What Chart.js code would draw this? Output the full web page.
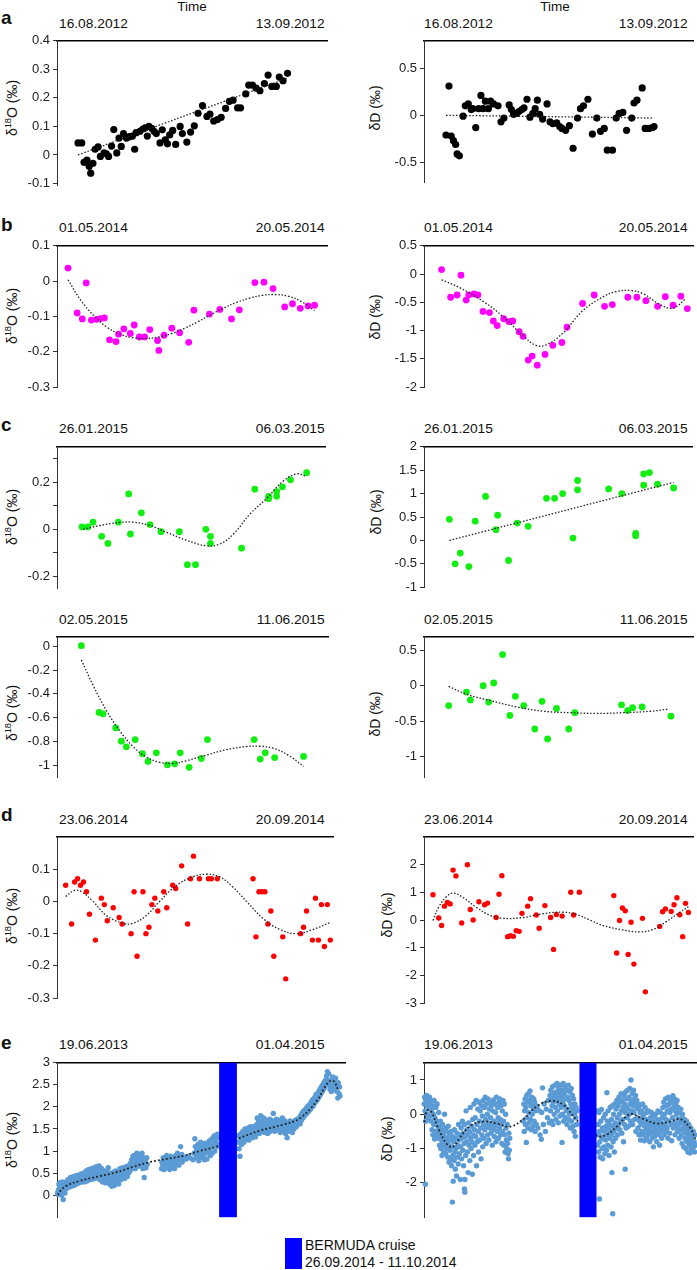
<!DOCTYPE html>
<html>
<head>
<meta charset="utf-8">
<script src="https://cdn.jsdelivr.net/npm/chart.js@4.4.1/dist/chart.umd.min.js"></script>
<style>
html,body{margin:0;padding:0;background:#fff;overflow:hidden;}
#fig{position:relative;width:697px;height:1270px;overflow:hidden;font-family:"Liberation Sans",Arial,sans-serif;color:#111;}
#fig canvas{position:absolute;}
.t{position:absolute;white-space:nowrap;line-height:1;}
.date{font-size:12.5px;transform:scaleX(1.1);transform-origin:left top;}
.date.r{transform-origin:right top;}
.time{font-size:12.5px;transform:translateX(-50%) scaleX(1.08);}
.let{font-size:19px;font-weight:bold;left:1px;}
.yt{font-size:14px;transform:translate(-50%,-50%) rotate(-90deg);}
.yt sup{font-size:0.66em;line-height:0;}
.leg{font-size:14px;left:305px;}
</style>
</head>
<body>
<div id="fig">
  <div class="t time" style="left:192px;top:1px">Time</div>
  <div class="t time" style="left:555px;top:1px">Time</div>

  <div class="t let" style="top:8px">a</div>
  <div class="t let" style="top:215px">b</div>
  <div class="t let" style="top:415px">c</div>
  <div class="t let" style="top:805px">d</div>
  <div class="t let" style="top:1033px">e</div>

  <div class="t date" style="left:59px;top:18px">16.08.2012</div>
  <div class="t date r" style="right:372px;top:18px">13.09.2012</div>
  <div class="t date" style="left:424px;top:18px">16.08.2012</div>
  <div class="t date r" style="right:9px;top:18px">13.09.2012</div>

  <div class="t date" style="left:59px;top:222px">01.05.2014</div>
  <div class="t date r" style="right:372px;top:222px">20.05.2014</div>
  <div class="t date" style="left:424px;top:222px">01.05.2014</div>
  <div class="t date r" style="right:9px;top:222px">20.05.2014</div>

  <div class="t date" style="left:59px;top:423px">26.01.2015</div>
  <div class="t date r" style="right:372px;top:423px">06.03.2015</div>
  <div class="t date" style="left:424px;top:423px">26.01.2015</div>
  <div class="t date r" style="right:9px;top:423px">06.03.2015</div>

  <div class="t date" style="left:59px;top:614px">02.05.2015</div>
  <div class="t date r" style="right:372px;top:614px">11.06.2015</div>
  <div class="t date" style="left:424px;top:614px">02.05.2015</div>
  <div class="t date r" style="right:9px;top:614px">11.06.2015</div>

  <div class="t date" style="left:59px;top:814px">23.06.2014</div>
  <div class="t date r" style="right:372px;top:814px">20.09.2014</div>
  <div class="t date" style="left:424px;top:814px">23.06.2014</div>
  <div class="t date r" style="right:9px;top:814px">20.09.2014</div>

  <div class="t date" style="left:59px;top:1039px">19.06.2013</div>
  <div class="t date r" style="right:372px;top:1039px">01.04.2015</div>
  <div class="t date" style="left:424px;top:1039px">19.06.2013</div>
  <div class="t date r" style="right:9px;top:1039px">01.04.2015</div>

  <div class="t yt" style="left:12px;top:108px">δ<sup>18</sup>O (‰)</div>
  <div class="t yt" style="left:375px;top:108px">δD (‰)</div>
  <div class="t yt" style="left:12px;top:316px">δ<sup>18</sup>O (‰)</div>
  <div class="t yt" style="left:375px;top:317px">δD (‰)</div>
  <div class="t yt" style="left:12px;top:517px">δ<sup>18</sup>O (‰)</div>
  <div class="t yt" style="left:376px;top:512px">δD (‰)</div>
  <div class="t yt" style="left:12px;top:713px">δ<sup>18</sup>O (‰)</div>
  <div class="t yt" style="left:375px;top:714px">δD (‰)</div>
  <div class="t yt" style="left:12px;top:916px">δ<sup>18</sup>O (‰)</div>
  <div class="t yt" style="left:387px;top:915px">δD (‰)</div>
  <div class="t yt" style="left:12px;top:1140px">δ<sup>18</sup>O (‰)</div>
  <div class="t yt" style="left:387px;top:1139px">δD (‰)</div>

  <div style="position:absolute;left:285px;top:1238px;width:17px;height:31px;background:#0000ff"></div>
  <div class="t leg" style="top:1238px">BERMUDA cruise</div>
  <div class="t leg" style="top:1255px">26.09.2014 - 11.10.2014</div>
</div>
<script>
// ---- a: 16.08.2012 - 13.09.2012 (days from start)
const aDaysO = [0,0.5,0.8,1.2,1.5,1.7,2.0,2.3,2.7,3.0,3.5,3.8,4.1,4.5,4.8,5.2,5.5,5.8,6.1,6.5,6.9,7.3,7.6,7.8,8.3,8.7,9.0,9.3,9.5,9.9,10.2,10.5,11.0,11.3,11.7,12.0,12.3,12.7,13.1,13.7,14.0,14.6,15.1,15.6,16.1,16.7,17.3,17.7,18.2,18.7,19.2,19.8,20.3,20.8,21.4,21.8,22.5,22.9,23.4,23.9,24.4,25.0,25.5,26.0,26.6,27.0,27.5,28.1];
const aO18 = [0.042,0.042,-0.026,-0.018,-0.04,-0.064,-0.029,0.02,0.028,-0.005,0.007,0.004,-0.005,0.031,0.089,0.007,0.059,0.03,0.075,0.059,0.064,0.066,0.02,0.078,0.083,0.091,0.095,0.066,0.1,0.093,0.083,0.075,0.042,0.088,0.053,0.039,0.07,0.086,0.037,0.1,0.075,0.045,0.08,0.102,0.146,0.173,0.135,0.143,0.119,0.124,0.132,0.163,0.188,0.192,0.165,0.165,0.214,0.245,0.245,0.234,0.225,0.25,0.28,0.24,0.24,0.273,0.26,0.286];
const aDaysD = [0,0.4,0.7,1.0,1.3,1.5,1.8,2.3,2.6,3.0,3.4,3.6,4.0,4.4,4.7,5.0,5.3,5.7,6.0,6.4,7.0,7.4,7.8,8.5,8.8,9.1,9.5,9.8,10.2,10.5,10.9,11.3,11.7,12.0,12.3,12.6,13.0,13.6,14.0,14.4,14.9,15.3,15.6,16.1,16.6,17.1,17.7,18.1,18.5,19.1,19.7,20.3,20.8,21.3,21.7,22.4,22.9,23.3,23.8,24.3,25.0,25.3,25.7,26.4,26.8,27.3,27.8,28.0];
const aDD = [-0.21,0.31,-0.22,-0.27,-0.31,-0.41,-0.43,-0.01,0.10,0.12,0.06,0.07,-0.13,0.07,0.21,0.07,0.15,0.07,0.15,0.12,0.10,-0.07,-0.03,0.11,0.06,0.01,0.02,0.04,0.06,0.08,0.17,-0.02,0.02,0.07,0.16,0.01,-0.04,0.12,-0.07,-0.09,-0.08,-0.12,-0.14,-0.16,-0.11,-0.35,-0.03,0.07,0.10,0.17,-0.20,-0.03,-0.17,-0.14,-0.37,-0.37,-0.03,0.02,0.03,-0.16,-0.03,0.13,0.16,0.29,-0.14,-0.14,-0.13,-0.12];
const aTrendX = [0, 28];
const aTrendO18 = [0.0, 0.268];
const aTrendD = [0.0, -0.03];

// ---- b: 01.05.2014 - 20.05.2014
const bDaysO = [0,0.7,1.1,1.4,1.8,2.2,2.5,2.8,3.2,3.7,3.9,4.3,4.8,5.1,5.5,5.9,6.3,6.9,7.0,7.4,8.0,8.6,9.3,9.7,10.9,11.7,12.6,13.2,14.4,15.1,15.8,16.7,17.3,17.9,18.5,19.0];
const bO18 = [0.037,-0.09,-0.107,-0.005,-0.11,-0.108,-0.106,-0.104,-0.166,-0.171,-0.15,-0.135,-0.148,-0.124,-0.158,-0.158,-0.137,-0.168,-0.196,-0.153,-0.133,-0.146,-0.173,-0.082,-0.093,-0.08,-0.107,-0.081,-0.004,-0.003,-0.021,-0.073,-0.064,-0.077,-0.07,-0.068];
const bDaysD = [0,0.7,1.2,1.5,1.9,2.1,2.5,2.8,3.2,3.7,4.0,4.3,4.8,5.2,5.5,6.0,6.3,6.7,7.0,7.4,8.0,8.6,9.3,9.7,10.9,11.8,12.6,13.2,14.4,15.1,15.8,16.7,17.3,17.9,18.5,19.0];
const bDD = [0.08,-0.41,-0.37,-0.02,-0.46,-0.37,-0.35,-0.37,-0.66,-0.68,-0.83,-0.91,-0.79,-0.84,-0.83,-1.02,-1.10,-1.52,-1.45,-1.61,-1.42,-1.26,-1.21,-0.94,-0.52,-0.37,-0.57,-0.54,-0.41,-0.41,-0.47,-0.57,-0.40,-0.55,-0.39,-0.61];
const bTrendXO = [0,1,2,3,4,5,6,7,8,9,10,11,12,13,14,15,16,17,18,19];
const bTrendO18 = [0.004,-0.055,-0.098,-0.13,-0.15,-0.16,-0.162,-0.158,-0.148,-0.133,-0.115,-0.095,-0.076,-0.06,-0.048,-0.04,-0.038,-0.043,-0.058,-0.083];
const bTrendXD = [0,1.4,3.2,4.8,6.3,7.3,8.1,9.4,10.9,12.5,13.5,14.6,15.6,16.9,17.9,18.9];
const bTrendD = [-0.1,-0.24,-0.48,-0.76,-1.09,-1.26,-1.25,-1.04,-0.65,-0.4,-0.31,-0.29,-0.35,-0.54,-0.6,-0.43];

// ---- c (upper): 26.01.2015 - 06.03.2015
const cDays = [0,1.0,1.9,3.4,4.5,6.3,8.1,8.4,10.3,11.8,13.7,16.9,18.3,19.7,21.5,22.3,22.3,27.7,30.0,32.4,32.4,33.8,33.8,34.8,36.2,39.0];
const cO18 = [0.01,0.01,0.03,-0.03,-0.06,0.03,0.15,-0.02,0.07,0.02,-0.01,-0.01,-0.15,-0.15,0.0,-0.03,-0.06,-0.08,0.17,0.14,0.13,0.16,0.14,0.18,0.21,0.24];
const cDD = [0.45,-0.5,-0.27,-0.56,0.41,0.94,0.23,0.54,-0.43,0.37,0.30,0.90,0.90,1.0,0.05,1.28,1.08,1.10,1.0,0.15,0.10,1.42,1.18,1.45,1.2,1.12];
const cTrendXO = [0.2,3.1,6.6,8.9,11.8,14.7,18.1,21.6,23.9,26.3,29.2,32.1,34.9,37.3,39.0];
const cTrendO18 = [0.0,0.016,0.029,0.03,0.016,-0.013,-0.046,-0.07,-0.063,-0.02,0.066,0.132,0.204,0.235,0.224];
const cTrendXD = [0, 39];
const cTrendD = [0.0, 1.24];

// ---- c (lower): 02.05.2015 - 11.06.2015
const c2Days = [0,3.2,3.9,6.2,7.2,8.1,9.7,11.0,12.0,13.5,15.5,16.8,17.8,19.4,21.6,22.7,31.1,32.2,33.1,34.8,40.0];
const c2O18 = [0.005,-0.556,-0.567,-0.686,-0.797,-0.845,-0.784,-0.903,-0.967,-0.895,-0.996,-0.988,-0.895,-1.017,-0.943,-0.784,-0.784,-0.948,-0.895,-0.935,-0.925];
const c2DD = [-0.28,-0.09,-0.2,0.0,-0.23,0.04,0.44,-0.42,-0.15,-0.28,-0.61,-0.22,-0.75,-0.32,-0.61,-0.38,-0.27,-0.35,-0.31,-0.30,-0.43];
const c2TrendXO = [0,2.1,4.5,6.9,9.3,11.7,14.1,16.5,18.9,22.5,26.1,29.7,32.1,34.5,37.5,40.0];
const c2TrendO18 = [-0.114,-0.326,-0.538,-0.71,-0.842,-0.93,-0.975,-0.983,-0.962,-0.914,-0.869,-0.842,-0.84,-0.856,-0.922,-1.009];
const c2TrendXD = [0,3.2,7.5,12.3,17.1,21.9,26.7,31.5,36.3,39.6];
const c2TrendD = [-0.01,-0.12,-0.21,-0.3,-0.36,-0.38,-0.39,-0.38,-0.36,-0.33];

// ---- d: 23.06.2014 - 20.09.2014
const dDays = [0,2,3,4,5,6,7,8,10,12,13,14,16,18,19,22,23,24,26,27,28,29,30,31,33,34,36,37,39,41,42,43,45,48,49,51,63,64,65,66,67,68,69,70,73,74,79,80,81,83,84,85,86,87,88,89];
const dO18 = [0.05,-0.07,0.06,0.07,0.05,0.06,0.03,-0.04,-0.12,0.01,-0.01,-0.06,-0.02,-0.05,-0.07,-0.1,0.03,-0.17,0.03,-0.1,-0.08,-0.01,0.01,-0.03,0.03,-0.02,0.05,0.04,0.11,-0.07,0.07,0.14,0.07,0.07,0.07,0.07,0.07,-0.11,0.03,0.03,0.03,-0.07,-0.03,-0.17,-0.11,-0.24,-0.1,-0.08,-0.03,-0.12,0.01,-0.12,-0.01,-0.14,-0.01,-0.12];
const dDD = [0.91,0.07,-0.2,0.5,0.63,0.58,1.8,1.59,-0.11,1.99,0.38,0.0,0.66,0.55,0.61,0.09,0.93,1.6,-0.6,-0.57,-0.59,-0.39,-0.41,0.24,0.5,0.77,0.18,-0.3,0.52,0.09,-1.06,0.2,0.14,1.0,0.18,1.0,0.88,-1.19,-0.02,0.43,0.33,-1.24,-0.08,-1.59,0.06,-2.59,-0.23,0.3,0.4,0.31,0.55,0.8,0.19,-0.6,0.6,0.27];
const dTrendXO = [0,3,5.3,9.2,13.7,19.3,22.6,27.1,31.6,37.2,42.8,47.3,51.8,56.3,60.8,66.4,72,77.6,83.2,88.8];
const dTrendO18 = [0.015,0.034,0.03,0.0,-0.044,-0.068,-0.068,-0.044,0.0,0.049,0.076,0.084,0.076,0.044,0.0,-0.053,-0.087,-0.1,-0.087,-0.066];
const dTrendXD = [0,1.9,4.8,7.1,10.6,15.2,19.8,24.5,31.4,38.4,45.4,50,54.6,59.3,66.2,72,76.7,81.3,86,89];
const dTrendD = [-0.02,0.45,0.85,0.97,0.8,0.45,0.17,0.06,0.09,0.23,0.28,0.2,0.0,-0.2,-0.36,-0.43,-0.34,-0.06,0.28,0.48];

// ---- e: 19.06.2013 - 01.04.2015, [day, value]
const eO18 = [[-1,0.05],[0,0.02],[1,0.12],[2,0.25],[3,0.05],[4,0.18],[5,0.28],[6,0.1],[7,0.22],[8,0.0],[9,0.15],[10,0.3],[11,0.08],[12,-0.1],[13,0.2],[14,0.12],[15,0.26],[16,0.05],[17,0.18],[19,0.3],[20,0.15],[22,0.22],[23,0.35],[25,0.18],[26,0.3],[28,0.25],[29,0.4],[31,0.2],[32,0.33],[34,0.28],[35,0.42],[37,0.22],[38,0.35],[40,0.3],[41,0.44],[43,0.25],[44,0.38],[46,0.32],[47,0.45],[49,0.28],[50,0.4],[52,0.33],[53,0.48],[55,0.3],[56,0.42],[58,0.36],[59,0.5],[61,0.3],[62,0.45],[64,0.38],[65,0.55],[67,0.32],[68,0.48],[70,0.4],[71,0.58],[73,0.35],[74,0.5],[76,0.42],[77,0.6],[79,0.36],[80,0.52],[82,0.45],[83,0.62],[85,0.38],[86,0.55],[88,0.48],[89,0.65],[91,0.4],[92,0.58],[94,0.5],[95,0.66],[97,0.35],[98,0.52],[100,0.45],[101,0.6],[103,0.3],[104,0.48],[106,0.4],[107,0.55],[109,0.28],[110,0.45],[112,0.38],[113,0.52],[115,0.3],[116,0.62],[118,0.42],[119,0.25],[121,0.5],[122,0.35],[124,0.2],[125,0.45],[127,0.3],[128,0.52],[130,0.22],[131,0.4],[133,0.55],[134,0.28],[136,0.45],[137,0.35],[139,0.5],[140,0.25],[142,0.42],[143,0.6],[145,0.35],[146,0.5],[148,0.4],[149,0.62],[151,0.45],[152,0.55],[154,0.38],[155,0.6],[157,0.48],[158,0.65],[160,0.42],[161,0.58],[163,0.5],[164,0.66],[166,0.55],[167,0.72],[169,0.6],[170,0.8],[172,0.65],[173,0.88],[175,0.7],[176,0.9],[178,0.6],[179,0.82],[181,0.72],[182,0.95],[184,0.65],[185,0.85],[187,0.75],[188,0.92],[190,0.68],[191,0.88],[193,0.78],[194,0.95],[196,0.6],[197,0.85],[199,0.4],[200,0.7],[202,0.8],[203,0.62],[205,0.85],[206,0.7],
[239,0.6],[240,0.75],[242,0.68],[243,0.85],[245,0.58],[246,0.72],[248,0.8],[249,0.65],[251,0.9],[252,0.7],[254,0.62],[255,0.82],[257,0.75],[258,0.58],[260,0.88],[261,0.7],[263,0.78],[264,0.65],[266,0.85],[267,0.72],[269,0.6],[270,0.8],[272,0.9],[273,0.7],[275,0.78],[276,0.95],[278,0.82],[279,0.68],[281,0.88],[283,1.1],[284,0.8],[286,0.92],[287,0.75],[291,0.85],[296,0.82],[301,0.88],[306,0.84],[312,0.8],[314,0.95],[316,1.28],[317,1.1],[319,0.85],[320,1.0],[322,0.9],[323,1.15],[325,0.78],[326,1.05],[328,0.92],[329,1.2],[331,0.85],[332,1.0],[334,1.12],[335,0.9],[337,1.05],[338,0.8],[340,1.18],[341,0.95],[343,1.08],[344,0.82],[346,1.15],[347,0.98],[349,1.22],[350,1.05],[352,0.9],[353,1.25],[355,1.1],[356,0.95],[358,1.3],[359,1.15],[361,1.35],[362,1.0],[364,1.2],[365,1.28],[367,1.1],[368,1.38],[370,1.15],[371,1.3],
[415,1.2],[416,1.35],[418,1.05],[420,0.88],[421,1.25],[423,1.4],[424,1.15],[426,1.3],[427,1.45],[429,1.2],[430,1.35],[432,1.5],[433,1.25],[435,1.4],[436,1.3],[438,1.52],[439,1.38],[441,1.25],[442,1.45],[444,1.55],[445,1.35],[447,1.48],[448,1.3],[450,1.42],[451,1.55],[453,1.38],[454,1.5],[456,1.32],[457,1.45],[459,1.6],[460,1.75],[462,1.5],[463,1.7],[465,1.4],[466,1.62],[468,1.8],[469,1.55],[471,1.45],[472,1.68],[474,1.52],[475,1.75],[477,1.42],[478,1.6],[480,1.48],[481,1.7],[483,1.55],[484,1.4],[486,1.65],[487,1.5],[489,1.72],[490,1.45],[492,1.6],[493,1.52],[495,1.68],[497,1.85],[498,1.58],[500,1.45],[501,1.65],[503,1.55],[504,1.72],[506,1.48],[507,1.62],[509,1.5],[510,1.7],[512,1.58],[513,1.42],[515,1.65],[516,1.52],[518,1.75],[519,1.45],[521,1.6],[522,1.5],[524,1.68],[525,1.4],[527,1.55],[529,1.3],[530,1.5],[532,1.62],[533,1.45],[535,1.55],[536,1.68],[538,1.5],[539,1.6],[541,1.42],[542,1.58],[544,1.65],[545,1.5],[547,1.62],[548,1.7],[550,1.55],[551,1.65],[553,1.72],[554,1.6],[556,1.68],[557,1.75],[559,1.62],[560,1.8],[562,1.7],[563,1.85],[565,1.75],[566,1.9],[568,1.78],[569,1.92],[571,1.82],[572,1.95],[574,1.85],[575,2.0],[577,1.88],[578,2.02],[580,1.92],[581,2.05],[583,1.95],[584,2.1],[586,2.0],[587,2.15],[589,2.02],[590,2.18],[592,2.08],[593,2.22],[595,2.12],[596,2.28],[598,2.15],[599,2.3],[601,2.2],[602,2.35],[604,2.25],[605,2.4],[607,2.3],[608,2.45],[610,2.35],[611,2.5],[613,2.4],[614,2.55],[616,2.45],[617,2.6],[619,2.55],[620,2.7],[622,2.8],[623,2.6],[625,2.75],[626,2.5],[628,2.4],[629,2.6],[631,2.35],[632,2.5],[634,2.68],[635,2.4],[637,2.62],[638,2.55],[640,2.45],[641,2.65],[643,2.5],[644,2.35],[646,2.2],[647,2.55],[649,2.3],[650,2.45],[651,2.25]];
const eDD = [[-2,0.3],[-1,0.5],[0,0.1],[1,-2.04],[1,0.45],[2,-0.2],[3,0.35],[4,0.55],[5,0.0],[6,0.25],[7,0.42],[8,-0.15],[9,0.3],[10,0.15],[11,0.5],[12,-0.05],[13,0.2],[14,0.38],[15,-0.2],[16,0.1],[17,-0.45],[18,0.25],[19,-0.6],[20,0.0],[21,-0.3],[22,0.4],[23,-0.72],[24,-0.1],[25,-0.5],[26,0.2],[27,-0.65],[28,-0.2],[29,0.3],[30,-0.55],[31,-0.35],[32,-0.7],[33,0.05],[34,-0.4],[35,-0.9],[36,-0.6],[37,-0.2],[38,-1.0],[39,-0.45],[40,-0.75],[41,-1.2],[42,-0.3],[43,-0.85],[44,-0.55],[45,-1.1],[46,-0.65],[47,0.0],[48,-0.95],[49,-0.4],[50,-1.15],[51,-0.7],[52,-0.5],[53,-1.0],[54,-0.8],[55,-1.25],[56,-0.35],[57,-0.9],[58,-1.4],[59,-0.6],[60,-1.05],[61,-0.75],[62,-1.3],[63,-0.5],[64,-1.5],[65,-0.95],[66,-2.56],[66,-0.65],[67,-1.2],[68,-1.95],[69,-0.8],[70,-1.35],[71,-0.45],[72,-1.1],[73,-1.6],[74,-0.7],[75,-1.0],[76,-1.8],[77,-0.55],[78,-1.25],[79,-0.9],[80,-1.45],[81,-0.3],[82,-0.75],[83,-1.15],[84,-0.6],[85,-1.9],[86,-0.95],[87,-0.4],[88,-1.3],[89,-0.7],[90,-0.2],[91,-1.05],[92,-0.55],[93,-1.5],[94,-0.85],[95,-2.18],[95,-0.3],[96,-2.27],[96,-1.9],[97,-0.65],[98,-1.2],[99,0.1],[100,-0.8],[101,-0.45],[102,-1.1],[103,-0.6],[104,-1.7],[105,-0.25],[106,-0.9],[107,-0.5],[108,-1.35],[109,0.2],[110,-0.7],[111,-1.0],[112,-0.35],[113,-0.8],[114,-1.75],[115,-0.15],[116,-0.6],[117,-1.2],[118,0.3],[119,-0.45],[120,-0.9],[121,-0.1],[122,-0.65],[123,0.4],[124,-1.5],[125,-0.3],[126,-0.8],[127,0.15],[128,-0.5],[129,-1.1],[130,0.35],[131,-0.2],[132,-0.75],[133,0.1],[134,-0.4],[135,-1.3],[136,0.25],[137,-0.6],[138,-0.05],[139,-0.95],[140,0.4],[141,-0.3],[142,-0.7],[143,0.2],[144,-0.45],[145,0.5],[146,-0.15],[147,-0.85],[148,0.3],[149,-0.35],[150,0.0],[151,-0.6],[152,0.45],[153,-0.25],[154,-0.75],[155,0.15],[156,-0.4],[157,0.35],[158,-0.1],[159,-0.55],[160,0.25],[161,-0.3],[162,-0.9],[163,0.1],[164,-0.45],[165,0.42],[166,-0.2],[167,-0.65],[168,0.3],[169,-0.35],[170,0.05],[171,-0.8],[172,0.5],[173,-0.25],[174,-0.5],[175,0.2],[176,-0.1],[177,-0.7],[178,0.35],[179,-0.4],[180,0.45],[181,-0.15],[182,-0.6],[183,0.25],[184,-0.3],[185,-0.85],[186,0.1],[187,-0.5],[188,0.4],[189,-0.2],[190,-0.9],[191,0.3],[192,-0.6],[193,-1.1],[194,0.0],[195,-0.4],[196,-0.75],[197,-1.0],[198,-0.3],[199,-0.85],[200,-1.15],[201,-1.3],[202,-0.55],[203,-1.05],[204,-0.7],
[237,-0.2],[238,0.3],[239,-0.5],[240,0.1],[241,0.45],[242,-0.3],[243,0.2],[244,-0.82],[245,0.55],[246,-0.1],[247,0.35],[248,-0.4],[249,0.6],[250,0.05],[251,-0.25],[252,0.4],[253,0.68],[254,-0.15],[255,0.25],[256,-0.45],[257,0.5],[258,0.0],[259,0.3],[260,-0.35],[261,0.15],[262,0.45],[263,-0.2],[264,0.35],[265,-0.5],[266,0.1],[267,0.25],[268,-0.3],[270,0.2],[272,-0.4],[275,0.1],[277,-0.6],[280,-0.73],[281,0.05],[283,0.77],[285,-0.3],[287,0.3],[290,-0.5],[292,0.15],[295,-0.1],[297,0.4],[299,-0.25],[301,0.55],[302,0.1],[303,0.7],[304,-0.2],[305,0.45],[306,0.25],[307,0.8],[308,-0.3],[309,0.35],[310,0.6],[311,0.0],[312,0.5],[313,0.85],[314,0.2],[315,-0.15],[316,0.65],[317,0.4],[318,0.9],[319,0.1],[320,0.55],[321,-0.25],[322,0.75],[323,0.3],[324,0.6],[325,-0.05],[326,0.45],[327,0.85],[328,0.2],[329,0.5],[330,-0.82],[330,0.7],[331,0.0],[332,0.35],[333,0.9],[334,-0.2],[335,0.6],[336,0.25],[337,0.8],[338,-0.1],[339,0.45],[340,0.1],[341,0.7],[342,-0.3],[343,0.5],[344,0.15],[345,0.85],[346,-0.15],[347,0.4],[348,0.0],[349,0.65],[350,-0.4],[351,0.3],[352,0.75],[353,-0.2],[354,0.2],[355,0.55],[356,-0.35],[357,0.1],[358,0.45],[359,-0.5],[360,0.0],[361,0.3],[362,-0.64],[363,-0.1],[364,0.2],[365,-0.3],[366,0.1],
[414,-0.6],[415,0.1],[416,-0.9],[417,-0.3],[418,-1.1],[419,0.05],[420,-2.47],[420,-0.5],[421,-0.8],[422,-1.25],[423,-0.2],[424,-0.65],[425,0.14],[426,-1.0],[427,-0.4],[428,-1.3],[429,-0.7],[430,-0.1],[431,-0.95],[432,-0.5],[433,-1.15],[434,0.0],[435,-0.75],[436,-0.35],[437,-1.05],[438,0.63],[438,-0.6],[439,-0.2],[440,-0.9],[441,0.1],[442,-0.45],[443,-1.2],[444,-0.3],[445,-0.7],[446,0.2],[447,-0.5],[448,-0.95],[449,-0.15],[450,-1.7],[450,-0.6],[451,0.25],[452,-2.9],[452,-0.35],[453,-0.8],[454,0.0],[455,-0.5],[456,-1.1],[457,0.3],[458,-0.25],[459,-0.7],[460,0.15],[461,-0.4],[462,0.4],[463,-0.1],[464,-0.6],[465,0.25],[466,-0.3],[467,0.5],[468,0.0],[469,-0.45],[470,0.35],[471,-0.2],[472,0.6],[473,0.1],[474,-0.55],[475,0.4],[476,-0.15],[477,0.2],[478,-0.8],[479,0.55],[480,-0.3],[481,0.3],[482,-1.6],[482,0.05],[483,0.65],[484,-0.4],[485,0.2],[486,0.45],[487,-0.1],[488,0.7],[489,0.15],[490,-0.35],[491,0.5],[492,0.0],[493,0.75],[494,0.3],[495,-0.2],[496,1.0],[497,0.4],[498,0.1],[499,0.6],[500,-0.3],[501,0.25],[502,0.7],[503,0.05],[504,0.45],[505,-0.15],[506,0.35],[507,0.55],[508,-0.5],[509,0.2],[510,0.4],[511,-0.1],[512,0.3],[513,-0.4],[514,0.15],[515,-0.6],[516,0.25],[517,-0.2],[518,0.05],[519,-0.75],[520,-0.3],[521,0.1],[522,-0.5],[523,-0.1],[524,0.3],[525,-0.6],[526,-0.25],[527,0.0],[528,-0.77],[529,-0.35],[530,0.2],[531,-0.5],[532,-0.15],[533,-0.7],[534,0.05],[535,-0.4],[536,-0.25],[537,-0.6],[538,0.1],[539,-0.45],[540,-0.2],[541,-0.8],[542,-0.35],[543,-0.1],[544,-0.55],[545,0.05],[546,-0.3],[547,-0.7],[548,-0.2],[549,-0.5],[550,-0.95],[551,-0.05],[552,-0.4],[553,-0.65],[554,-0.25],[555,0.0],[556,-0.55],[557,-0.35],[558,-0.8],[559,-0.15],[560,-0.45],[561,0.1],[562,-0.3],[563,-0.6],[564,-0.2],[565,-0.9],[566,-0.4],[567,0.05],[568,-0.5],[569,-0.25],[570,-0.7],[571,-0.1],[572,-0.45],[573,0.2],[574,-0.35],[575,0.35],[576,-0.6],[577,0.0],[578,-0.3],[579,0.45],[580,-0.15],[581,-0.5],[582,0.25],[583,-0.4],[584,0.1],[585,-0.7],[586,0.5],[587,-0.2],[588,0.3],[589,-0.55],[590,0.05],[591,0.4],[592,-0.3],[593,0.15],[594,-0.77],[595,0.35],[596,-0.1],[597,0.54],[598,-0.4],[599,0.2],[600,-0.25],[601,0.45],[602,-0.6],[603,0.1],[604,0.3],[605,-0.35],[606,0.0],[607,0.4],[608,-0.5],[609,-0.15],[610,0.2],[611,-0.3],[612,-0.7],[613,0.05],[614,-0.45],[615,-0.2],[616,0.15],[617,-0.6],[618,-0.1],[619,-0.85],[620,0.0],[621,-0.4],[622,-0.25],[623,-0.95],[624,-0.5],[625,-0.15],[626,-0.7],[627,-0.35],[628,-1.0],[629,-0.55],[630,-0.2],[631,-0.8],[632,-0.45],[633,-1.1],[634,-0.65],[635,-0.3],[636,-0.9],[637,-0.5],[638,-1.13],[639,-0.75],[640,-0.4],[641,-1.0],[642,-0.6],[643,-0.85],[644,-1.05],[645,-0.7],[646,-0.5],[647,-0.95],[648,-0.8],[649,-1.1],[650,-0.6],[651,-0.9]];
const eTrendXO = [0,4,19,50,96,135,173,212,250,289,327,366,414,466,520,558,597,624,636,647];
const eTrendO18 = [0,0.08,0.21,0.32,0.43,0.52,0.64,0.75,0.82,0.89,1.0,1.1,1.28,1.46,1.6,1.74,2.13,2.56,2.59,2.38];
const eTrendXD = [-2,6,16,32,52,67,84,109,141,173,205,237,269,301,334,366,414,438,462,494,526,559,591,615,639,651];
const eTrendD = [-0.23,0.12,0.05,-0.41,-0.86,-0.95,-0.68,-0.34,-0.21,-0.27,-0.36,-0.14,0.23,0.39,0.27,-0.18,-0.63,-0.59,-0.36,0.0,-0.14,-0.27,-0.21,-0.14,-0.41,-0.72];
const cruise = [372, 413];

const zip = (xs, ys) => xs.map((x, i) => ({x: x, y: ys[i]}));
const pairs = arr => arr.map(p => ({x: p[0], y: p[1]}));

const cruisePlugin = {
  id: 'cruise',
  afterDatasetsDraw(chart, args, opts) {
    if (!opts.range) return;
    const {ctx, chartArea, scales} = chart;
    const x0 = scales.x.getPixelForValue(opts.range[0]);
    const x1 = scales.x.getPixelForValue(opts.range[1]);
    ctx.save();
    ctx.fillStyle = opts.color;
    ctx.fillRect(x0, chartArea.top, x1 - x0, chartArea.bottom - chartArea.top);
    ctx.restore();
  }
};

const fig = document.getElementById('fig');
const PADL = 46, PAD = 6;

function panel(o) {
  const [l, t, r, b] = o.rect;
  const cw = r - l + PADL + PAD, ch = b - t + 2 * PAD;
  const cv = document.createElement('canvas');
  cv.width = cw; cv.height = ch;
  cv.style.left = (l - PADL) + 'px';
  cv.style.top = (t - PAD) + 'px';
  cv.style.width = cw + 'px';
  cv.style.height = ch + 'px';
  fig.appendChild(cv);
  const minor = o.minor || [];
  new Chart(cv, {
    type: 'scatter',
    data: {
      datasets: [
        {data: o.points, pointRadius: o.r, pointBackgroundColor: o.color, pointBorderColor: o.color,
         pointBorderWidth: 0, clip: false, order: 2},
        {type: 'line', data: o.trend, borderColor: '#222', borderWidth: o.tw || 1.3, borderDash: o.dash || [1.5, 1.8],
         pointRadius: 0, tension: 0.4, fill: false, clip: false, order: 1}
      ]
    },
    options: {
      responsive: false, animation: false, devicePixelRatio: 1, events: [],
      layout: {padding: {left: 0, top: PAD, right: PAD, bottom: PAD}},
      plugins: {legend: {display: false}, tooltip: {enabled: false},
                cruise: {range: o.cruise, color: '#0000ff'}},
      scales: {
        x: {type: 'linear', position: 'top', min: o.xr[0], max: o.xr[1],
            ticks: {display: false},
            grid: {display: true, drawOnChartArea: false, drawTicks: false},
            border: {display: true, color: '#000', width: 1.4},
            afterFit: s => { s.height = 0; }},
        y: {type: 'linear', min: o.yr[0], max: o.yr[1],
            afterFit: s => { s.width = PADL; },
            afterBuildTicks: s => { s.ticks = o.ticks.concat(minor).map(v => ({value: v})); },
            ticks: {autoSkip: false, padding: 3, color: '#222',
                    font: {family: 'Liberation Sans', size: 13},
                    callback: v => minor.includes(v) ? '' : String(v)},
            grid: {display: true, drawOnChartArea: false, drawTicks: true, tickLength: 4,
                   tickColor: '#333', lineWidth: 1},
            border: {display: true, color: '#333', width: 1}}
      }
    },
    plugins: [cruisePlugin]
  });
}

panel({rect: [57, 36, 327, 190], xr: [-2.82, 33.4], yr: [-0.106, 0.4], ticks: [-0.1, 0, 0.1, 0.2, 0.3, 0.4],
       points: zip(aDaysO, aO18), trend: zip(aTrendX, aTrendO18), color: '#000', r: 3.6});
panel({rect: [424, 36, 693, 187], xr: [-2.96, 33.24], yr: [-0.71, 0.79], ticks: [-0.5, 0, 0.5],
       points: zip(aDaysD, aDD), trend: zip(aTrendX, aTrendD), color: '#000', r: 3.6});

panel({rect: [57, 241, 327, 392], xr: [-0.85, 19.96], yr: [-0.3, 0.1], ticks: [-0.3, -0.2, -0.1, 0, 0.1],
       points: zip(bDaysO, bO18), trend: zip(bTrendXO, bTrendO18), color: '#ff00ff', r: 3.4});
panel({rect: [424, 241, 693, 392], xr: [-1.36, 19.44], yr: [-2, 0.5], ticks: [-2, -1.5, -1, -0.5, 0, 0.5],
       points: zip(bDaysD, bDD), trend: zip(bTrendXD, bTrendD), color: '#ff00ff', r: 3.4});

panel({rect: [57, 442, 325, 593], xr: [-4.35, 42.19], yr: [-0.25, 0.35], ticks: [-0.2, 0, 0.2], minor: [-0.1, 0.1, 0.3],
       points: zip(cDays, cO18), trend: zip(cTrendXO, cTrendO18), color: '#11ee11', r: 3.4});
panel({rect: [424, 442, 692, 592], xr: [-4.41, 42.2], yr: [-1, 2], ticks: [-1, -0.5, 0, 0.5, 1, 1.5, 2],
       points: zip(cDays, cDD), trend: zip(cTrendXD, cTrendD), color: '#11ee11', r: 3.4});

panel({rect: [57, 632, 328, 782], xr: [-4.38, 44.4], yr: [-1.1, 0.08], ticks: [-1, -0.8, -0.6, -0.4, -0.2, 0],
       points: zip(c2Days, c2O18), trend: zip(c2TrendXO, c2TrendO18), color: '#11ee11', r: 3.4});
panel({rect: [424, 632, 693, 782], xr: [-4.44, 43.96], yr: [-1.29, 0.69], ticks: [-1, -0.5, 0, 0.5],
       points: zip(c2Days, c2DD), trend: zip(c2TrendXD, c2TrendD), color: '#11ee11', r: 3.4});

panel({rect: [57, 832, 333, 1003], xr: [-2.91, 89.9], yr: [-0.3, 0.2], ticks: [-0.3, -0.2, -0.1, 0, 0.1],
       points: zip(dDays, dO18), trend: zip(dTrendXO, dTrendO18), color: '#ff0000', r: 2.7});
panel({rect: [424, 832, 693, 1008], xr: [-3.13, 90.6], yr: [-3, 3], ticks: [-3, -2, -1, 0, 1, 2],
       points: zip(dDays, dDD), trend: zip(dTrendXD, dTrendD), color: '#ff0000', r: 2.7});

panel({rect: [57, 1058, 345, 1222], xr: [-2.3, 662.6], yr: [-0.5, 3], ticks: [0, 0.5, 1, 1.5, 2, 2.5, 3],
       points: pairs(eO18), trend: zip(eTrendXO, eTrendO18), color: '#5b9bd5', r: 2.7,
       tw: 1.8, dash: [1.8, 2.2], cruise: cruise});
panel({rect: [424, 1058, 697, 1222], xr: [-2.4, 655], yr: [-3, 1.5], ticks: [-2, -1, 0, 1],
       points: pairs(eDD), trend: zip(eTrendXD, eTrendD), color: '#5b9bd5', r: 2.7,
       tw: 1.8, dash: [1.8, 2.2], cruise: cruise});
</script>
</body>
</html>
